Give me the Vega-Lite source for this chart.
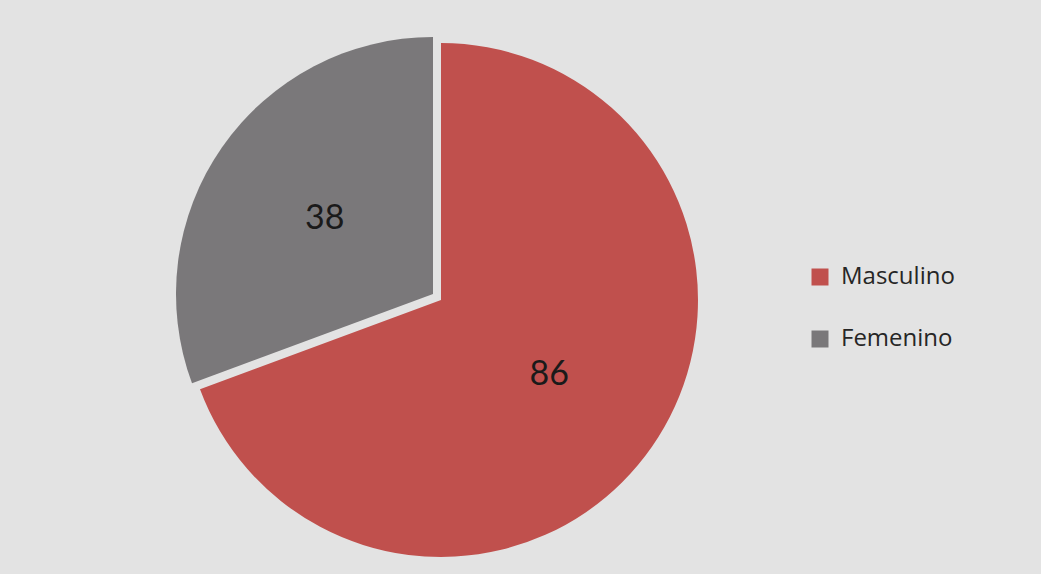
{
  "$schema": "https://vega.github.io/schema/vega-lite/v6.json",
  "width": 880,
  "height": 548,
  "autosize": {"type": "none"},
  "padding": {"left": 1, "top": 26, "right": 160, "bottom": 0},
  "background": "#e3e3e3",
  "config": {"view": {"stroke": null}, "font": "Lato"},
  "data": {"values": [
    {"sexo": "Masculino", "valor": 86},
    {"sexo": "Femenino", "valor": 38}
  ]},
  "encoding": {
    "theta": {"field": "valor", "type": "quantitative", "stack": true},
    "order": {"field": "valor", "type": "quantitative", "sort": "descending"}
  },
  "layer": [
    {
      "mark": {"type": "arc", "outerRadius": 257},
      "encoding": {
        "color": {
          "field": "sexo", "type": "nominal",
          "scale": {"domain": ["Masculino", "Femenino"], "range": ["#c0504d", "#7a787a"]},
          "legend": {
            "title": null, "orient": "none", "legendX": 807, "legendY": 239,
            "symbolType": "square", "symbolSize": 289, "symbolStrokeWidth": 0,
            "labelFontSize": 24, "labelColor": "#262626", "labelFont": "Open Sans",
            "labelOffset": 9, "rowPadding": 38, "labelLimit": 300
          }
        },
        "opacity": {"condition": {"test": "datum.sexo === 'Masculino'", "value": 1}, "value": 0}
      }
    },
    {
      "mark": {"type": "arc", "outerRadius": 257, "xOffset": -8, "yOffset": -6},
      "encoding": {
        "color": {"field": "sexo", "type": "nominal"},
        "opacity": {"condition": {"test": "datum.sexo === 'Femenino'", "value": 1}, "value": 0}
      }
    },
    {
      "mark": {"type": "text", "radius": 132, "fontSize": 34, "color": "#1a1a1a", "font": "Lato"},
      "encoding": {
        "text": {"field": "valor", "type": "quantitative"},
        "opacity": {"condition": {"test": "datum.sexo === 'Masculino'", "value": 1}, "value": 0}
      }
    },
    {
      "mark": {"type": "text", "radius": 132, "fontSize": 34, "color": "#1a1a1a", "font": "Lato", "xOffset": -8, "yOffset": -6},
      "encoding": {
        "text": {"field": "valor", "type": "quantitative"},
        "opacity": {"condition": {"test": "datum.sexo === 'Femenino'", "value": 1}, "value": 0}
      }
    }
  ]
}
